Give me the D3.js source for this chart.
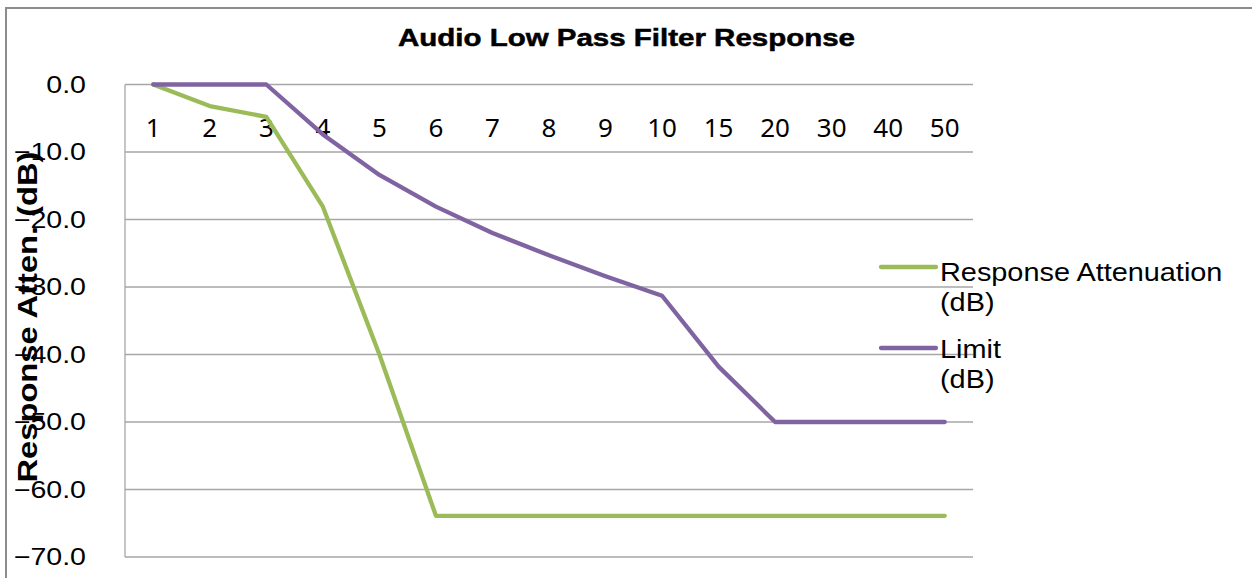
<!DOCTYPE html>
<html>
<head>
<meta charset="utf-8">
<script src="https://cdn.jsdelivr.net/npm/d3@7"></script>
<style>
  body { margin: 0; background: #fff; }
  svg { display: block; }
</style>
</head>
<body>
<svg id="chart" width="1252" height="578"></svg>
<script>
// chart data
const categories = ["1", "2", "3", "4", "5", "6", "7", "8", "9", "10", "15", "20", "30", "40", "50"];
const responseAtten = [0, -3.2, -4.8, -18.1, -40, -63.9, -63.9, -63.9, -63.9, -63.9, -63.9, -63.9, -63.9, -63.9, -63.9];
const limitDb = [0, 0, 0, -7.4, -13.4, -18.1, -22.0, -25.3, -28.4, -31.3, -41.8, -50, -50, -50, -50];
const yTicks = [0, -10, -20, -30, -40, -50, -60, -70];

const series = [
    { name: ["Response Attenuation", "(dB)"], values: responseAtten, color: "#9BBB59" },
    { name: ["Limit", "(dB)"], values: limitDb, color: "#8064A2" },
];

const svg = d3.select("#chart");
const plot = { left: 125, right: 973, top: 84.5, bottom: 557 };

// stretch text horizontally a bit, the original is wider than plain Arial
function stretch(sel, k) {
    sel.each(function () {
        let w = this.getComputedTextLength();
        d3.select(this).attr("textLength", w * k).attr("lengthAdjust", "spacingAndGlyphs");
    });
}

// outer chart border
svg.append("path")
    .attr("d", "M6,1260 V8 H1260")
    .attr("fill", "none")
    .attr("stroke", "#8c8c8c")
    .attr("stroke-width", 2);

const x = d3.scaleBand()
    .domain(categories)
    .range([plot.left, plot.right])
    .padding(0);

const y = d3.scaleLinear()
    .domain([-70, 0])
    .range([plot.bottom, plot.top]);

// gridlines
svg.append("g")
    .selectAll("line")
    .data(yTicks)
    .join("line")
    .attr("x1", plot.left)
    .attr("x2", plot.right)
    .attr("y1", d => y(d))
    .attr("y2", d => y(d))
    .attr("stroke", "#a6a6a6")
    .attr("stroke-width", 1.3);

// left axis line
svg.append("line")
    .attr("x1", plot.left).attr("x2", plot.left)
    .attr("y1", y(0)).attr("y2", y(-70))
    .attr("stroke", "#a6a6a6")
    .attr("stroke-width", 1.3);

// y tick labels
let yLabels = svg.append("g")
    .selectAll("text")
    .data(yTicks)
    .join("text")
    .attr("x", 86)
    .attr("y", d => y(d))
    .attr("dy", "0.35em")
    .attr("text-anchor", "end")
    .attr("font-family", "Liberation Sans, Arial, sans-serif")
    .attr("font-size", 24)
    .attr("fill", "#000")
    .text(d => d3.format(".1f")(d));
stretch(yLabels, 1.19);

// category labels sit under the 0 line
svg.append("g")
    .selectAll("text")
    .data(categories)
    .join("text")
    .attr("x", d => x(d) + x.bandwidth() / 2)
    .attr("y", 137)
    .attr("text-anchor", "middle")
    .attr("font-family", "Noto Sans, sans-serif")
    .attr("font-size", 26)
    .attr("fill", "#000")
    .text(d => d);

// series lines
const line = d3.line()
    .x((d, i) => x(categories[i]) + x.bandwidth() / 2)
    .y(d => y(d));

svg.append("g")
    .selectAll("path")
    .data(series)
    .join("path")
    .attr("d", d => line(d.values))
    .attr("fill", "none")
    .attr("stroke", d => d.color)
    .attr("stroke-width", 4.3)
    .attr("stroke-linejoin", "round")
    .attr("stroke-linecap", "round");

// title
svg.append("text")
    .attr("x", 626.5)
    .attr("y", 46)
    .attr("text-anchor", "middle")
    .attr("font-family", "Liberation Sans, Arial, sans-serif")
    .attr("font-weight", "bold")
    .attr("font-size", 24)
    .attr("stroke", "#000")
    .attr("stroke-width", 0.5)
    .attr("textLength", 457)
    .attr("lengthAdjust", "spacingAndGlyphs")
    .text("Audio Low Pass Filter Response");

// y axis title
svg.append("text")
    .attr("transform", "translate(37, 317) rotate(-90)")
    .attr("text-anchor", "middle")
    .attr("font-family", "Liberation Sans, Arial, sans-serif")
    .attr("font-weight", "bold")
    .attr("font-size", 28)
    .attr("textLength", 331)
    .attr("lengthAdjust", "spacingAndGlyphs")
    .text("Response Atten. (dB)");

// legend
const legendLineY = [267, 348];
const legendTextY = [281, 358];
const legend = svg.append("g")
    .selectAll("g")
    .data(series)
    .join("g")
    .attr("transform", "translate(881, 0)");

legend.append("line")
    .attr("x1", 0).attr("x2", 55)
    .attr("y1", (d, i) => legendLineY[i])
    .attr("y2", (d, i) => legendLineY[i])
    .attr("stroke", d => d.color)
    .attr("stroke-width", 4.3)
    .attr("stroke-linecap", "round");

let legendText = legend.selectAll("text")
    .data((d, i) => d.name.map((t, j) => ({ t: t, y: legendTextY[i] + j * 30 })))
    .join("text")
    .attr("x", 59)
    .attr("y", d => d.y)
    .attr("font-family", "Liberation Sans, Arial, sans-serif")
    .attr("font-size", 26)
    .attr("fill", "#000")
    .text(d => d.t);
stretch(legendText, 1.11);
</script>
</body>
</html>
